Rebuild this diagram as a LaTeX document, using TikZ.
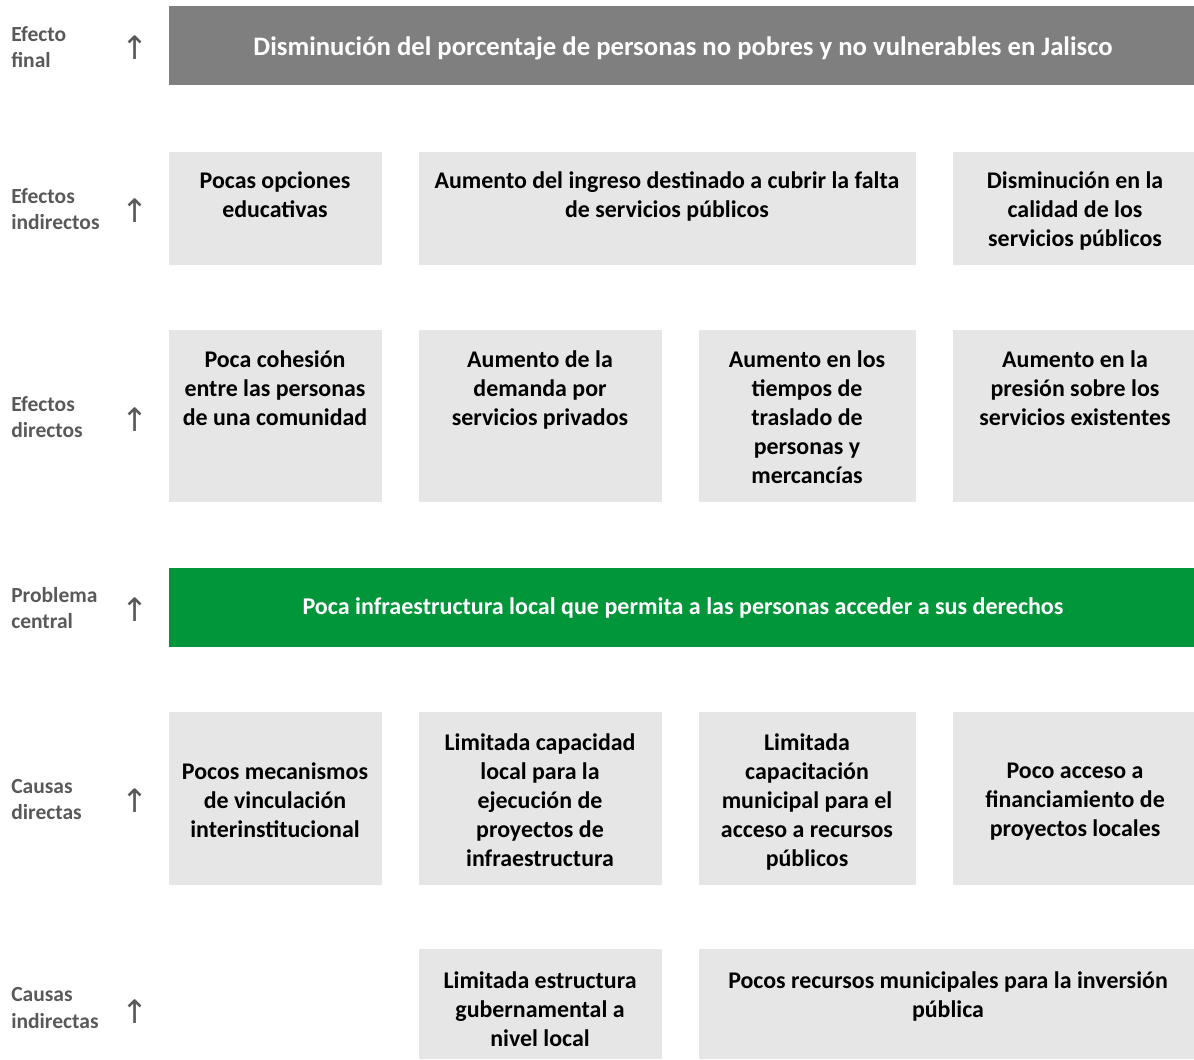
\documentclass[tikz,border=0pt]{standalone}
\usepackage{fontspec}
\setmainfont{Carlito}
\newfontfamily\arrowfont{DejaVu Sans}

\definecolor{final color}{RGB}{127,127,127}
\definecolor{central color}{RGB}{0,150,57}
\definecolor{box fill}{RGB}{231,230,230}
\definecolor{label color}{RGB}{89,89,89}

\tikzset{
	treetext/.style={align=center, font=\fontsize{17}{20.6}\selectfont\bfseries},
	rowlabel/.style={anchor=west, inner sep=0pt, align=left, label color, font=\fontsize{15.3}{18.5}\selectfont\bfseries},
	uparrow/.style={label color, font=\arrowfont\fontsize{23}{23}\selectfont}
}

\begin{document}
\begin{tikzpicture}[x=0.025cm, y=-0.025cm]
	\useasboundingbox (0,0) rectangle (1194,1059);

	% bands
	\path [fill=final color] (169,6) rectangle (1194,85);
	\path [fill=central color] (169,568) rectangle (1194,647);

	% boxes
	\foreach \xa/\xb in {169/382, 419/916, 953/1194}
		\path [fill=box fill] (\xa,152) rectangle (\xb,265);
	\foreach \xa/\xb in {169/382, 419/662, 699/916, 953/1194} {
		\path [fill=box fill] (\xa,330) rectangle (\xb,502);
		\path [fill=box fill] (\xa,712) rectangle (\xb,885);
	}
	\path [fill=box fill] (419,949) rectangle (662,1059);
	\path [fill=box fill] (699,949) rectangle (1194,1059);

	% row labels and arrows
	\node (final) at (11,47) [rowlabel] {Efecto\\final};
	\node (indirect effects) at (11,209) [rowlabel] {Efectos\\indirectos};
	\node (direct effects) at (11,417) [rowlabel] {Efectos\\directos};
	\node (problem) at (11,608) [rowlabel] {Problema\\central};
	\node (direct causes) at (11,800) [rowlabel] {Causas\\directas};
	\node (indirect causes) at (11,1008) [rowlabel] {Causas\\indirectas};
	\foreach \y [count=\i] in {48,211,420,610,801,1012}
		\node (arrow \i) at (135,\y) [uparrow] {↑};

	% final effect
	\node (ef) at (683,48) [treetext, white, font=\fontsize{19}{23}\selectfont\bfseries] {Disminución del porcentaje de personas no pobres y no vulnerables en Jalisco};

	% indirect effects
	\node (ei1) at (275,194.5) [treetext] {Pocas opciones\\educativas};
	\node (ei2) at (667,196.5) [treetext] {Aumento del ingreso destinado a cubrir la falta\\de servicios públicos};
	\node (ei3) at (1075,211) [treetext] {Disminución en la\\calidad de los\\servicios públicos};

	% direct effects
	\node (ed1) at (275,388) [treetext] {Poca cohesión\\entre las personas\\de una comunidad};
	\node (ed2) at (540,390) [treetext] {Aumento de la\\demanda por\\servicios privados};
	\node (ed3) at (807,417) [treetext] {Aumento en los\\tiempos de\\traslado de\\personas y\\mercancías};
	\node (ed4) at (1075,388) [treetext] {Aumento en la\\presión sobre los\\servicios existentes};

	% central problem
	\node (pc) at (683,608) [treetext, white, font=\fontsize{17.1}{20.6}\selectfont\bfseries] {Poca infraestructura local que permita a las personas acceder a sus derechos};

	% direct causes
	\node (cd1) at (275,800) [treetext] {Pocos mecanismos\\de vinculación\\interinstitucional};
	\node (cd2) at (540,800) [treetext] {Limitada capacidad\\local para la\\ejecución de\\proyectos de\\infraestructura};
	\node (cd3) at (807,802) [treetext] {Limitada\\capacitación\\municipal para el\\acceso a recursos\\públicos};
	\node (cd4) at (1075,802) [treetext] {Poco acceso a\\financiamiento de\\proyectos locales};

	% indirect causes
	\node (ci1) at (540,1009) [treetext] {Limitada estructura\\gubernamental a\\nivel local};
	\node (ci2) at (948,996.5) [treetext] {Pocos recursos municipales para la inversión\\pública};
\end{tikzpicture}
\end{document}
